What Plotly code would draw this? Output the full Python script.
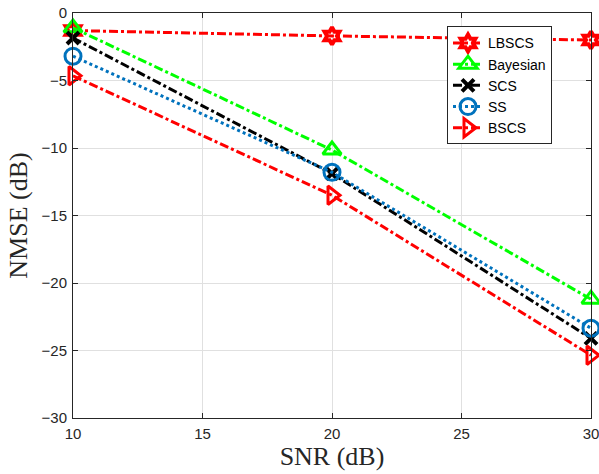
import plotly.graph_objects as go

snr = [10, 20, 30]
lbscs = [-1.3, -1.7, -2.0]
bayesian = [-1.1, -10.15, -21.2]
scs = [-1.85, -11.9, -24.1]
ss = [-3.2, -11.8, -23.35]
bscs = [-4.65, -13.5, -25.35]

series = [
    ("LBSCS", lbscs, "#FF0000", "dashdot", "hexagram-open", 13, 4),
    ("Bayesian", bayesian, "#00FF00", "dashdot", "triangle-up-open", 16, 3),
    ("SCS", scs, "#000000", "dashdot", "x-thin-open", 12, 4),
    ("SS", ss, "#0072BD", "dot", "circle-open", 16, 3),
    ("BSCS", bscs, "#FF0000", "dashdot", "triangle-right-open", 16, 3),
]

fig = go.Figure()
for name, vals, color, dash, sym, size, mw in series:
    fig.add_trace(go.Scatter(
        x=snr, y=vals, name=name, mode="lines+markers",
        line=dict(color=color, width=3, dash=dash),
        marker=dict(symbol=sym, size=size, color=color,
                    line=dict(color=color, width=mw)),
        cliponaxis=False,
    ))

axis_common = dict(
    showline=True, linecolor="#262626", linewidth=1, mirror="ticks",
    ticks="inside", ticklen=5, tickcolor="#262626",
    showgrid=True, gridcolor="#E0E0E0", gridwidth=1,
    zeroline=False, automargin=False, ticklabelstandoff=2,
    ticklabeloverflow="allow",
    tickfont=dict(family="Liberation Sans, Arial", size=15, color="#262626"),
)

title_font = dict(family="Liberation Serif, serif", size=26, color="#262626")
fig.update_xaxes(range=[10, 30], tickvals=[10, 15, 20, 25, 30],
                 title=dict(text="SNR (dB)", standoff=1, font=title_font),
                 **axis_common)
fig.update_yaxes(range=[-30, 0], tickvals=[-30, -25, -20, -15, -10, -5, 0],
                 title=dict(text="NMSE (dB)", standoff=6, font=title_font),
                 **axis_common)

fig.update_layout(
    width=599, height=474,
    margin=dict(l=73, r=8, t=13, b=56),
    plot_bgcolor="white", paper_bgcolor="white",
    legend=dict(x=0.722, y=0.967, xanchor="left", yanchor="top",
                bgcolor="white", bordercolor="#262626", borderwidth=1,
                font=dict(family="Liberation Sans, Arial", size=14, color="#000000"),
                tracegroupgap=0, itemwidth=30),
    showlegend=True,
)

fig.write_html("out.html")
